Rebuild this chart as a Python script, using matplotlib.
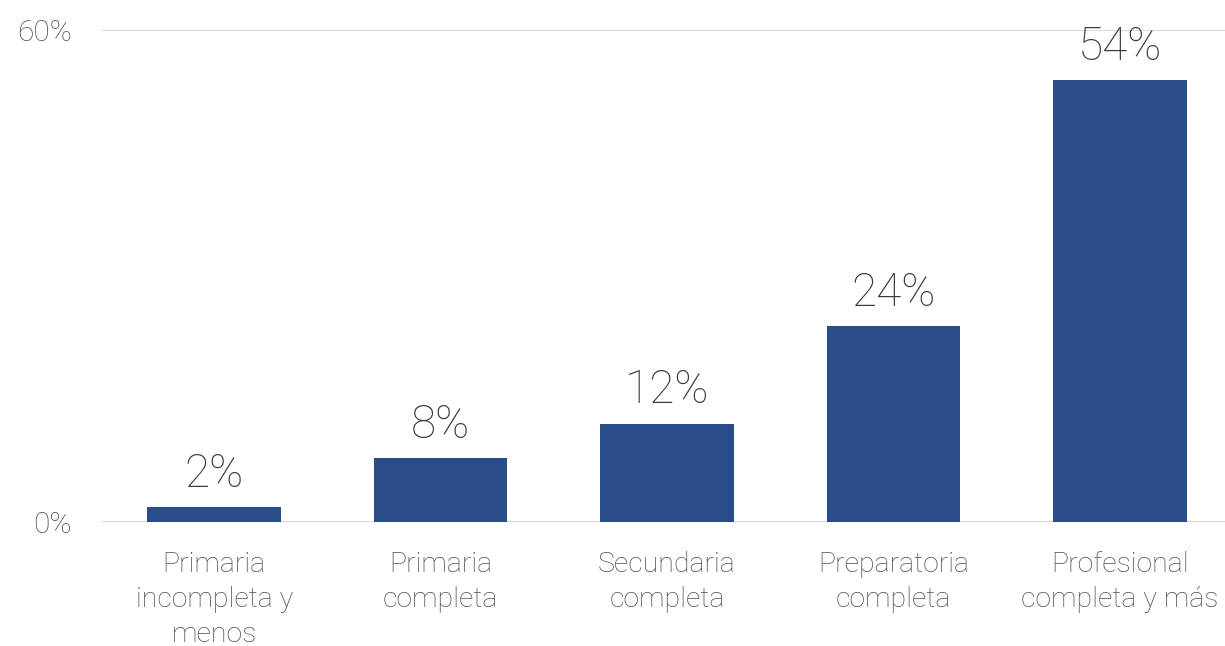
import matplotlib.pyplot as plt

plt.rcParams['font.family'] = ['Roboto', 'DejaVu Sans']

categories = ["Primaria\nincompleta y\nmenos", "Primaria\ncompleta", "Secundaria\ncompleta",
              "Preparatoria\ncompleta", "Profesional\ncompleta y más"]
values = [1.8, 7.8, 12.0, 23.9, 53.9]
labels = ["2%", "8%", "12%", "24%", "54%"]
yticks = [0, 60]

fig = plt.figure(figsize=(12.25, 6.46), dpi=100)
ax = fig.add_axes([101 / 1225, 1 - 522 / 646, 1 - 101 / 1225, (522 - 30) / 646])

x = range(len(categories))
bars = ax.bar(x, values, width=0.59, color="#2a4d8a", zorder=3)

# value labels above bars
for b, lab in zip(bars, labels):
    ax.annotate(lab, (b.get_x() + b.get_width() / 2, b.get_height()),
                xytext=(0, 8), textcoords="offset points",
                ha="center", va="bottom", fontsize=33, fontweight="light", color="#3a3a3a")

ax.set_ylim(0, 60)
ax.set_xlim(-0.5, 4.465)
ax.set_yticks(yticks)
ax.set_yticklabels([f"{t}%" for t in yticks], fontsize=21.5, fontweight="light", color="#4f4f4f")
ax.set_xticks(list(x))
ax.set_xticklabels(categories, fontsize=20.5, fontweight="light", color="#4f4f4f", linespacing=1.38)
ax.tick_params(length=0)
ax.tick_params(axis="x", pad=21)
ax.tick_params(axis="y", pad=21)

ax.grid(axis="y", color="#d9d9d9", linewidth=1.5, zorder=0)
for s in ax.spines.values():
    s.set_visible(False)

fig.savefig("out.png", dpi=100)
